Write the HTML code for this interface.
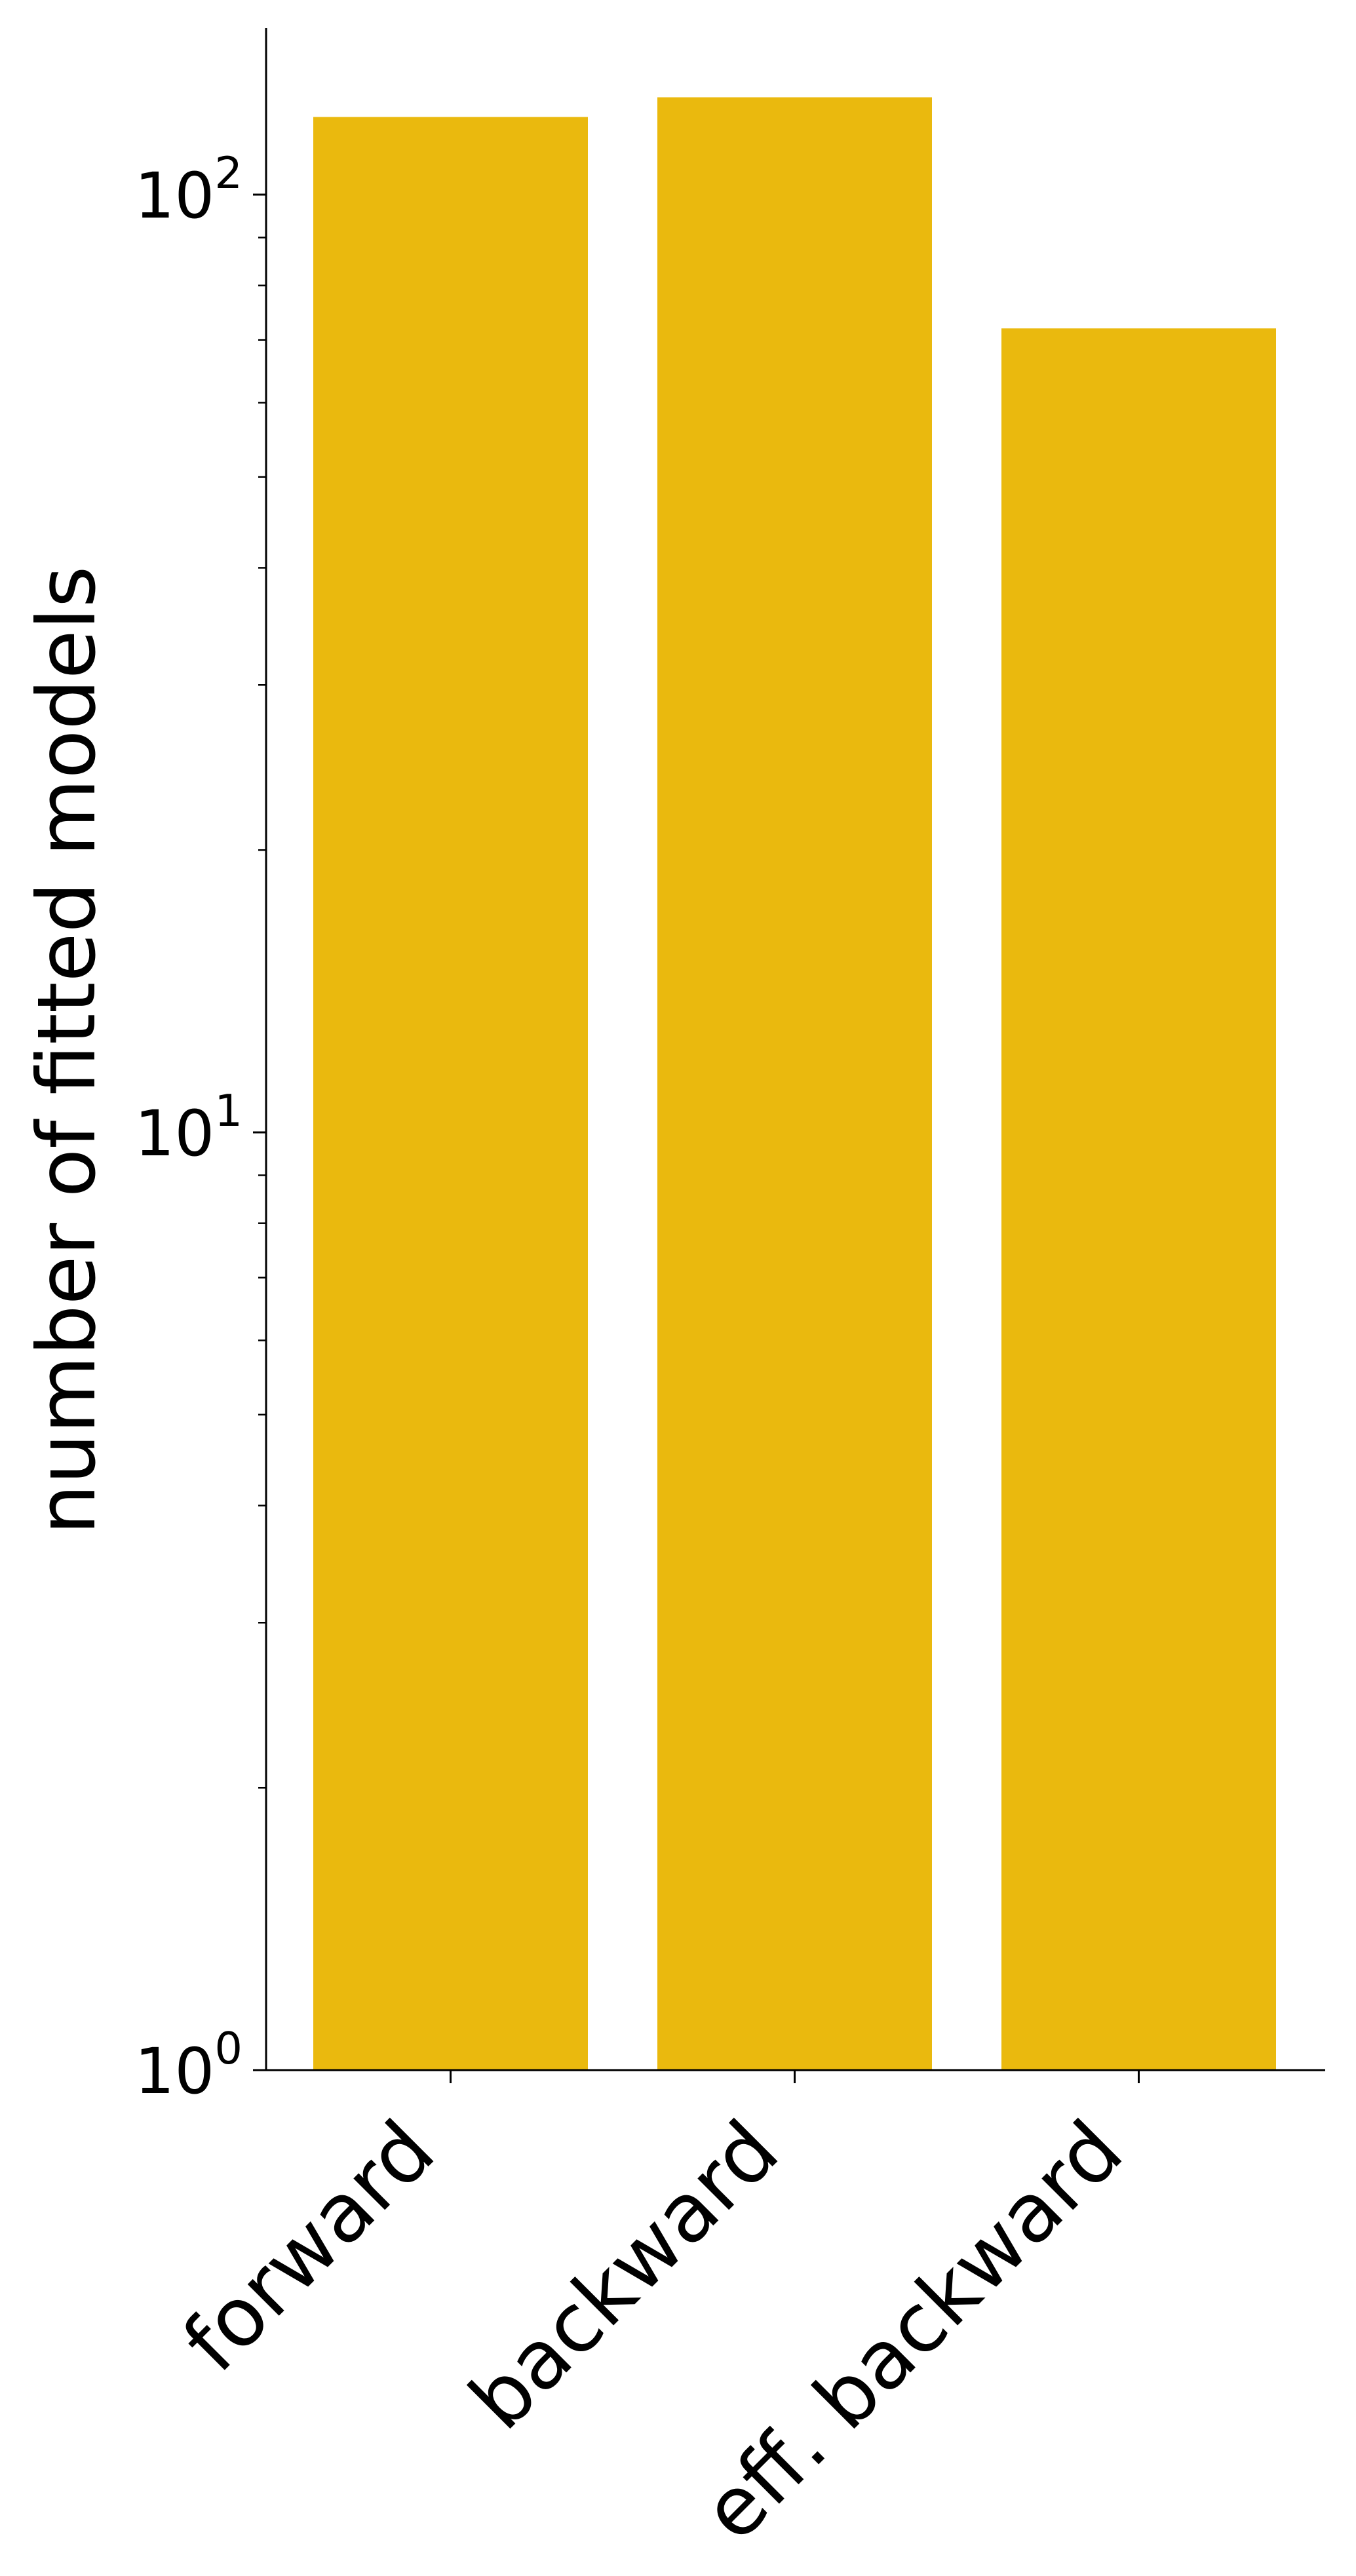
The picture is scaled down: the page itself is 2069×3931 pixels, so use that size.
<!DOCTYPE html>
<html><head><meta charset="utf-8"><style>
html,body{margin:0;padding:0;background:#fff;}
svg{display:block;font-family:"DejaVu Sans","Liberation Sans",sans-serif;}
</style></head><body>
<svg id="chart" width="2069" height="3931" viewBox="0 0 2069 3931" xmlns="http://www.w3.org/2000/svg">
<g id="plot"></g>
</svg>
<script>
const categories = ["forward", "backward", "eff. backward"];
const values = [121, 127, 72];
const yTickExps = [0, 1, 2];

const NS = "http://www.w3.org/2000/svg";
const svg = document.getElementById("plot");
const X0 = 406, X1 = 2022, YTOP = 43;
const Y0 = 3159, DEC = 1431;
function ySc(v){ return Y0 - Math.log10(v) * DEC; }
const slotStart = 478, slotStep = 525, barW = 419;
function xBar(i){ return slotStart + i * slotStep; }
function el(tag, attrs){ const e = document.createElementNS(NS, tag); for (const k in attrs) e.setAttribute(k, attrs[k]); svg.appendChild(e); return e; }

categories.forEach((c, i) => {
  const top = ySc(values[i]);
  const r = el("rect", {x: xBar(i), y: top, width: barW, height: Y0 - top, fill: "#EAB90E"});
  
  
});

const ys = el("line", {x1: X0, y1: YTOP, x2: X0, y2: Y0 + 1.5, stroke: "#000", "stroke-width": 3});


const xs = el("line", {x1: X0 - 1.5, y1: Y0, x2: X1, y2: Y0, stroke: "#000", "stroke-width": 3});



yTickExps.forEach(p => {
  const y = ySc(Math.pow(10, p));
  const t = el("line", {x1: X0 - 20, y1: y, x2: X0, y2: y, stroke: "#000", "stroke-width": 3});
  
  
  const tx = el("text", {x: X0 - 36, y: y + 35, "font-size": 96, "text-anchor": "end", fill: "#000"});
  
  
  tx.innerHTML = '10<tspan dy="-45" font-size="67">' + p + '</tspan>';
});
for (let p = 0; p < 3; p++) {
  for (let m = 2; m <= 9; m++) {
    const v = m * Math.pow(10, p);
    const y = ySc(v);
    if (y < YTOP) continue;
    const t = el("line", {x1: X0 - 12, y1: y, x2: X0, y2: y, stroke: "#000", "stroke-width": 2.5});
    
    
  }
}

categories.forEach((c, i) => {
  const cx = xBar(i) + barW / 2;
  const t = el("line", {x1: cx, y1: Y0, x2: cx, y2: Y0 + 20, stroke: "#000", "stroke-width": 3});
  
  
  const ax = cx + 6, ay = Y0 + 42;
  const tx = el("text", {x: ax, y: ay, "font-size": 124, "text-anchor": "end", fill: "#000",
    transform: "rotate(-45 " + ax + " " + ay + ") translate(-80 46)"});
  
  
  tx.textContent = c;
});

const yt = el("text", {x: 100, y: 1603, "font-size": 122, "text-anchor": "middle", fill: "#000",
  transform: "rotate(-90 100 1603) translate(0 44)"});


yt.textContent = "number of fitted models";
</script>
</body></html>
